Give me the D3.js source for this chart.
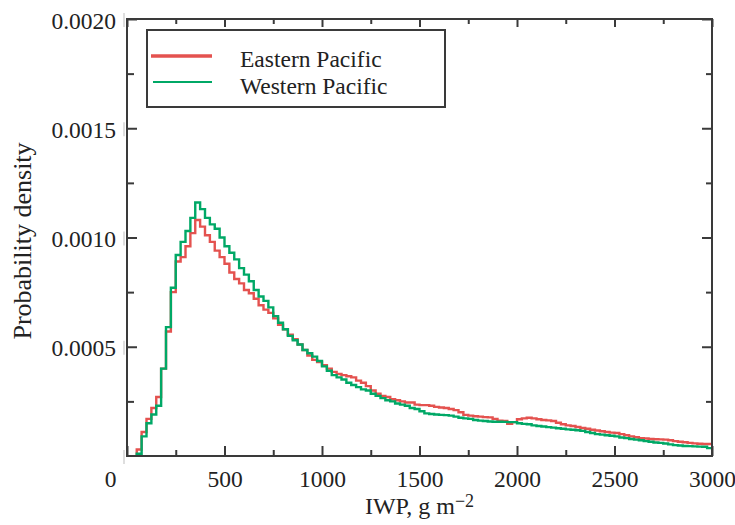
<!DOCTYPE html>
<html>
<head>
<meta charset="utf-8">
<script src="https://cdn.jsdelivr.net/npm/d3@7"></script>
<style>
  html, body { margin: 0; padding: 0; background: #fff; }
  svg { display: block; }
  text { font-family: "Liberation Serif", "Times New Roman", serif; fill: #222; }
</style>
</head>
<body>
<svg id="chart" width="735" height="525"></svg>
<script>
// Ice water path histogram (IWP, g m-2), bins 25 g m-2 wide starting at 50
const binStart = 50;
const binWidth = 25;
const xMax = 3000;

// Probability density per bin, in units of 1e-4
const DENSITY_UNIT = 1e-4;
const easternPacific = [
  0.3, 1.1, 1.7, 2.2, 2.7, 4.0, 5.7, 7.5, 8.9, 9.1,
  9.6, 10.2, 10.8, 10.5, 10.1, 9.8, 9.4, 9.1, 8.8, 8.4,
  8.1, 7.9, 7.6, 7.45, 7.2, 6.9, 6.7, 6.55, 6.3, 6.0,
  5.8, 5.55, 5.35, 5.1, 4.85, 4.6, 4.4, 4.3, 4.15, 4.0,
  3.85, 3.75, 3.7, 3.65, 3.6, 3.45, 3.35, 3.2, 3.0, 2.85,
  2.75, 2.7, 2.6, 2.55, 2.5, 2.45, 2.45, 2.35, 2.33, 2.33,
  2.3, 2.25, 2.22, 2.2, 2.15, 2.1, 2.0, 1.88, 1.85, 1.82,
  1.8, 1.78, 1.77, 1.7, 1.62, 1.6, 1.47, 1.55, 1.68, 1.72,
  1.75, 1.72, 1.68, 1.65, 1.63, 1.6, 1.52, 1.45, 1.4, 1.37,
  1.33, 1.28, 1.25, 1.2, 1.17, 1.13, 1.1, 1.07, 1.05, 1.0,
  0.95, 0.9, 0.86, 0.82, 0.8, 0.78, 0.77, 0.76, 0.75, 0.72,
  0.68, 0.65, 0.63, 0.6, 0.58, 0.56, 0.55, 0.55
];
const westernPacific = [
  0.1, 0.9, 1.5, 1.9, 2.3, 4.0, 5.9, 7.7, 9.2, 9.8,
  10.3, 10.9, 11.6, 11.3, 10.9, 10.6, 10.4, 10.0, 9.6, 9.3,
  9.0, 8.6, 8.3, 8.0, 7.6, 7.3, 7.1, 6.8, 6.4, 6.1,
  5.8, 5.5, 5.3, 5.1, 4.85, 4.7, 4.55, 4.35, 4.1, 3.9,
  3.7, 3.6, 3.5, 3.35, 3.25, 3.15, 3.05, 3.0, 2.85, 2.75,
  2.65, 2.55, 2.5, 2.4, 2.35, 2.3, 2.2, 2.15, 2.05, 1.95,
  1.92, 1.9, 1.88, 1.87, 1.85, 1.8, 1.75, 1.72, 1.7, 1.65,
  1.62, 1.6, 1.58, 1.57, 1.57, 1.56, 1.55, 1.55, 1.5, 1.47,
  1.45, 1.4, 1.37, 1.35, 1.32, 1.3, 1.27, 1.25, 1.22, 1.2,
  1.18, 1.15, 1.1, 1.05, 1.0, 0.98, 0.95, 0.93, 0.9, 0.85,
  0.82, 0.78, 0.75, 0.72, 0.68, 0.65, 0.62, 0.6, 0.57, 0.53,
  0.5, 0.48, 0.46, 0.45, 0.44, 0.43, 0.42, 0.36
];

const seriesNames = ["Eastern Pacific", "Western Pacific"];
const seriesColors = ["#e4524f", "#00a866"];

const xMajorTicks = [0, 500, 1000, 1500, 2000, 2500, 3000];
const xMinorTicks = [250, 750, 1250, 1750, 2250, 2750];
const yMajorTicks = [0.0005, 0.0010, 0.0015, 0.0020];
const yMinorTicks = [0.00025, 0.00075, 0.00125, 0.00175];
const yTickLabels = ["0.0005", "0.0010", "0.0015", "0.0020"];

const plot = { left: 127, right: 712, top: 19, bottom: 456 };
const axisColor = "#3a3a3a";

const svg = d3.select("#chart");

const x = d3.scaleLinear().domain([0, xMax]).range([plot.left, plot.right]);
const y = d3.scaleLinear().domain([0, 0.002]).range([plot.bottom, plot.top]);

// Step outlines of the two histograms
function stepPoints(values) {
  const pts = [[binStart, 0]];
  values.forEach((v, i) => pts.push([binStart + i * binWidth, v * DENSITY_UNIT]));
  pts.push([xMax, values[values.length - 1] * DENSITY_UNIT]);
  return pts;
}
const line = d3.line()
  .x(d => x(d[0]))
  .y(d => y(d[1]))
  .curve(d3.curveStepAfter);

[easternPacific, westernPacific].forEach((vals, i) => {
  svg.append("path")
    .attr("d", line(stepPoints(vals)))
    .attr("fill", "none")
    .attr("stroke", seriesColors[i])
    .attr("stroke-width", 2.4)
    .attr("stroke-linejoin", "miter");
});

// Axes: ticks point inward on all four sides
function styleAxis(g) {
  g.select(".domain").remove();
  g.selectAll(".tick line").attr("stroke", axisColor).attr("stroke-width", 2);
}

// bottom
svg.append("g")
  .attr("transform", `translate(0,${plot.bottom})`)
  .call(d3.axisBottom(x).tickValues(xMajorTicks).tickSizeInner(-10).tickSizeOuter(0)
    .tickFormat(d3.format("d")))
  .call(styleAxis)
  .call(g => g.selectAll(".tick text")
    .attr("y", 31).attr("dy", 0)
    .attr("x", d => d === 0 ? -17 : 0)
    .style("font-size", "23.5px")
    .style("font-family", "Liberation Serif, serif")
    .attr("fill", "#222"));
svg.append("g")
  .attr("transform", `translate(0,${plot.bottom})`)
  .call(d3.axisBottom(x).tickValues(xMinorTicks).tickSize(-6).tickFormat(""))
  .call(styleAxis);

// top
svg.append("g")
  .attr("transform", `translate(0,${plot.top})`)
  .call(d3.axisTop(x).tickValues(xMajorTicks).tickSize(-8).tickFormat(""))
  .call(styleAxis);
svg.append("g")
  .attr("transform", `translate(0,${plot.top})`)
  .call(d3.axisTop(x).tickValues(xMinorTicks).tickSize(-5).tickFormat(""))
  .call(styleAxis);

// left
svg.append("g")
  .attr("transform", `translate(${plot.left},0)`)
  .call(d3.axisLeft(y).tickValues(yMajorTicks).tickSizeInner(-10).tickSizeOuter(0)
    .tickFormat((d, i) => yTickLabels[i]))
  .call(styleAxis)
  .call(g => g.selectAll(".tick text")
    .attr("x", -11).attr("y", 9).attr("dy", 0)
    .style("font-size", "23.5px")
    .style("font-family", "Liberation Serif, serif")
    .attr("fill", "#222"));
svg.append("g")
  .attr("transform", `translate(${plot.left},0)`)
  .call(d3.axisLeft(y).tickValues(yMinorTicks).tickSize(-7).tickFormat(""))
  .call(styleAxis);

// faint separators beside the left tick labels
svg.append("g").selectAll("line")
  .data([0].concat(yMajorTicks))
  .join("line")
  .attr("x1", 124).attr("x2", 124)
  .attr("y1", d => y(d) - 6).attr("y2", d => y(d) + 8)
  .attr("stroke", "#bdbdbd").attr("stroke-width", 1);

// right
svg.append("g")
  .attr("transform", `translate(${plot.right},0)`)
  .call(d3.axisRight(y).tickValues(yMajorTicks).tickSize(-10).tickFormat(""))
  .call(styleAxis);
svg.append("g")
  .attr("transform", `translate(${plot.right},0)`)
  .call(d3.axisRight(y).tickValues(yMinorTicks).tickSize(-6).tickFormat(""))
  .call(styleAxis);

// plot frame
svg.append("rect")
  .attr("x", plot.left).attr("y", plot.top)
  .attr("width", plot.right - plot.left).attr("height", plot.bottom - plot.top)
  .attr("fill", "none").attr("stroke", axisColor).attr("stroke-width", 2);

// axis titles
const xTitle = svg.append("text")
  .attr("x", (plot.left + plot.right) / 2)
  .attr("y", 514)
  .attr("text-anchor", "middle")
  .style("font-size", "24px");
xTitle.append("tspan").text("IWP, g m");
xTitle.append("tspan").attr("dy", -7).style("font-size", "18px").text("\u22122");

svg.append("text")
  .attr("transform", `translate(31,${241}) rotate(-90)`)
  .attr("text-anchor", "middle")
  .style("font-size", "26px")
  .text("Probability density");

// legend
const legend = svg.append("g");
legend.append("rect")
  .attr("x", 147).attr("y", 30).attr("width", 298).attr("height", 77)
  .attr("fill", "#fff").attr("stroke", axisColor).attr("stroke-width", 2);
const legendRows = [
  { y: 56, text: 67, width: 3.5, x1: 151 },
  { y: 82, text: 94, width: 2.2, x1: 153 }
];
legendRows.forEach((r, i) => {
  legend.append("line")
    .attr("x1", r.x1).attr("x2", 212)
    .attr("y1", r.y).attr("y2", r.y)
    .attr("stroke", seriesColors[i]).attr("stroke-width", r.width);
  legend.append("text")
    .attr("x", 240).attr("y", r.text)
    .style("font-size", "23.5px")
    .text(seriesNames[i]);
});
</script>
</body>
</html>
